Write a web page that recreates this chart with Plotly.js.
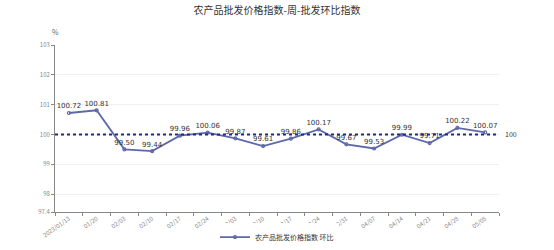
<!DOCTYPE html>
<html>
<head>
<meta charset="utf-8">
<script src="https://cdn.plot.ly/plotly-3.0.1.min.js"></script>
<style>html,body{margin:0;padding:0;background:#fff;}#chart{width:554px;height:250px;}</style>
</head>
<body>
<div id="chart"></div>
<script>
const categories = ["2023/01/13","01/20","02/03","02/10","02/17","02/24","03/03","03/10","03/17","03/24","03/31","04/07","04/14","04/21","04/28","05/05"];
const values = [100.72,100.81,99.50,99.44,99.96,100.06,99.87,99.61,99.86,100.17,99.67,99.53,99.99,99.71,100.22,100.07];
const refValue = 100;
const seriesName = "农产品批发价格指数 环比";
const titleText = "农产品批发价格指数-周-批发环比指数";
const yTicks = [97.4,98,99,100,101,102,103];

const lineColor = "#5d68a8";
const trace = {
  x: categories, y: values, type: "scatter", mode: "lines+markers+text",
  name: seriesName,
  line: {color: lineColor, width: 1.8},
  marker: {size: 3, color: lineColor, symbol: "circle-open", line: {width: 1.2, color: lineColor}},
  text: values.map(v => v.toFixed(2)),
  textposition: "top center",
  textfont: {size: 7, color: "#333", family: "DejaVu Sans"},
  cliponaxis: false,
  hoverinfo: "x+y"
};
const layout = {
  width: 554, height: 250,
  margin: {l: 55, r: 55, t: 45, b: 38, autoexpand: false},
  paper_bgcolor: "#fff", plot_bgcolor: "#fff",
  font: {family: "Noto Sans CJK SC, DejaVu Sans", size: 7, color: "#666"},
  title: {text: titleText, x: 0.5, xanchor: "center", y: 0.96, yanchor: "middle",
          font: {size: 10, color: "#333", family: "Noto Sans CJK SC"}},
  showlegend: true,
  legend: {orientation: "h", x: 0.5, xanchor: "center", y: -0.15, yanchor: "middle",
           font: {size: 7, color: "#333", family: "Noto Sans CJK SC"}},
  xaxis: {type: "category", showline: true, linecolor: "#888", linewidth: 1, automargin: false,
          ticks: "outside", ticklen: 3, tickcolor: "#888", tickson: "boundaries",
          tickangle: -35, tickfont: {size: 6, color: "#888"}, showgrid: false,
          range: [-0.5, categories.length - 0.5]},
  yaxis: {range: [97.4, 103], tickvals: yTicks, ticktext: yTicks.map(v => String(v)),
          automargin: false,
          showline: true, linecolor: "#888", linewidth: 1, ticks: "outside", ticklen: 3,
          tickcolor: "#888", tickfont: {size: 6, color: "#888"},
          showgrid: true, gridcolor: "#f0f0f0", zeroline: false},
  shapes: [{type: "line", xref: "paper", x0: 0, x1: 1, yref: "y", y0: refValue, y1: refValue,
            line: {color: "#1c2a8c", width: 2, dash: "dot"}}],
  annotations: [
    {xref: "paper", x: 1, xanchor: "left", yref: "y", y: refValue, yanchor: "middle",
     text: String(refValue), showarrow: false, xshift: 4, font: {size: 7, color: "#333"}},
    {xref: "paper", x: 0, xanchor: "center", yref: "paper", y: 1, yanchor: "bottom",
     text: "%", showarrow: false, yshift: 6, font: {size: 7, color: "#666"}}
  ]
};
Plotly.newPlot("chart", [trace], layout, {displayModeBar: false, staticPlot: true});
</script>
</body>
</html>
